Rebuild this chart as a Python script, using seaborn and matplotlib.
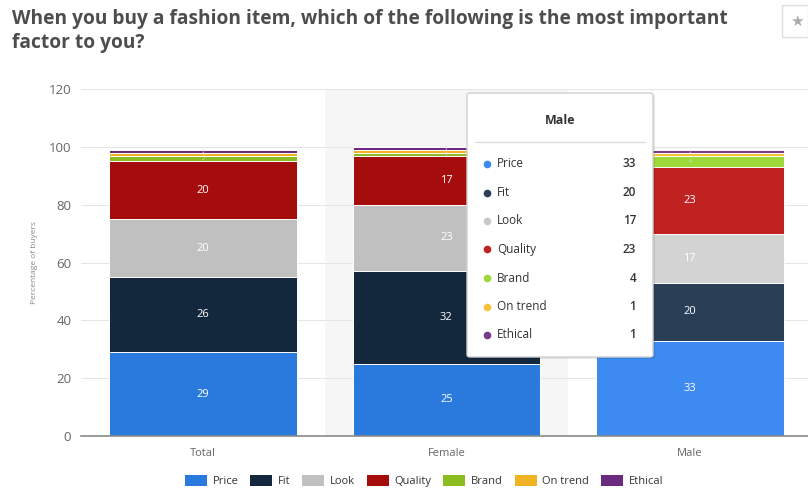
import matplotlib
matplotlib.use("Agg")
import matplotlib.pyplot as plt
from matplotlib.patches import Rectangle, FancyBboxPatch, Patch
from matplotlib.lines import Line2D
import seaborn as sns
import pandas as pd
import numpy as np

sns.set_theme(style="white")
plt.rcParams["font.family"] = ["Open Sans", "DejaVu Sans"]

# Survey data (% of buyers)
groups = ["Total", "Female", "Male"]
factors = ["Price", "Fit", "Look", "Quality", "Brand", "On trend", "Ethical"]
price = [29, 25, 33]
fit = [26, 32, 20]
look = [20, 23, 17]
quality = [20, 17, 23]
brand = [2, 1, 4]
on_trend = [1, 1, 1]
ethical = [1, 1, 1]
series = [price, fit, look, quality, brand, on_trend, ethical]

base_colors = ["#2a7ade", "#13273d", "#c0c0c0", "#a50c0c", "#8bbc21", "#f0b323", "#6a2a7f"]
hover_colors = ["#3d8bf0", "#2a3f56", "#d3d3d3", "#c02222", "#9ed93a", "#f8c23a", "#7a3a8f"]

W, H = 808, 492
fig = plt.figure(figsize=(W / 100, H / 100), dpi=100)
ax = fig.add_axes([81 / W, 1 - 436 / H, 1 - 81 / W, (436 - 89) / H])

def fx(x):
    return x / W

def fy(y):
    return 1 - y / H

# hovered category band
ax.axvspan(0.5, 1.5, color="#f6f6f6", zorder=0, lw=0)

# stacked columns: draw cumulative totals from the top series down
cum = np.cumsum(np.array(series), axis=0)
for i in range(len(factors) - 1, -1, -1):
    df = pd.DataFrame({"group": groups, "value": cum[i]})
    pal = {"Total": base_colors[i], "Female": base_colors[i], "Male": hover_colors[i]}
    sns.barplot(data=df, x="group", y="value", hue="group", palette=pal,
                dodge=False, legend=False, width=0.77, ax=ax,
                edgecolor="white", linewidth=0.7, saturation=1, zorder=2)

# segment labels
for i, vals in enumerate(series):
    for j, v in enumerate(vals):
        center = cum[i][j] - v / 2
        if v >= 5:
            ax.text(j, center, str(v), ha="center", va="center", fontsize=8,
                    color="white", zorder=5)
        else:
            ax.text(j, center, str(v), ha="center", va="center", fontsize=3.5,
                    color="#e0e0e0", zorder=5)

ax.set_xlim(-0.5, 2.485)
ax.set_ylim(0, 120)
ax.set_yticks(range(0, 121, 20))
ax.yaxis.grid(True, color="#e6e6e6", lw=0.8)
ax.set_axisbelow(True)
for s in ["top", "right", "left"]:
    ax.spines[s].set_visible(False)
ax.spines["bottom"].set_color("#8a8a8a")
ax.spines["bottom"].set_linewidth(1.2)
ax.tick_params(axis="y", length=0, pad=7, labelsize=9.5, labelcolor="#666666")
ax.tick_params(axis="x", length=0, pad=9, labelsize=8, labelcolor="#666666")
ax.set_xlabel("")
ax.set_ylabel("Percentage of buyers", fontsize=6, color="#888888", labelpad=8)

# title
fig.text(fx(12), fy(19), "When you buy a fashion item, which of the following is the most important",
         fontsize=13.8, fontweight="bold", color="#4d4d4d", va="center", ha="left")
fig.text(fx(12), fy(43), "factor to you?",
         fontsize=13.8, fontweight="bold", color="#4d4d4d", va="center", ha="left")

# star button
fig.add_artist(Rectangle((fx(782), fy(37)), (808 - 782) / W, 32 / H,
                         transform=fig.transFigure, facecolor="white",
                         edgecolor="#dddddd", lw=1))
fig.text(fx(797), fy(21), "★", fontsize=11, color="#aaaaaa", ha="center", va="center",
         family="DejaVu Sans")

# tooltip
tx0, tx1, ty0, ty1 = 467, 653, 93, 357
fig.add_artist(FancyBboxPatch((fx(tx0 + 2), fy(ty1 + 2)), (tx1 - tx0) / W, (ty1 - ty0) / H,
                              boxstyle="round,pad=0,rounding_size=0.004",
                              transform=fig.transFigure, facecolor="#00000018",
                              edgecolor="none", zorder=9))
fig.add_artist(FancyBboxPatch((fx(tx0), fy(ty1)), (tx1 - tx0) / W, (ty1 - ty0) / H,
                              boxstyle="round,pad=0,rounding_size=0.004",
                              transform=fig.transFigure, facecolor="white",
                              edgecolor="#d0d0d0", lw=1, zorder=10))
fig.text(fx(560), fy(121), "Male", fontsize=9, fontweight="bold", color="#333333",
         ha="center", va="center", zorder=11)
fig.add_artist(Line2D([fx(475), fx(645)], [fy(142), fy(142)], transform=fig.transFigure,
                      color="#dddddd", lw=1, zorder=11))
male_vals = [s[2] for s in series]
for k, (name, v) in enumerate(zip(factors, male_vals)):
    yy = 164 + k * 28.5
    fig.add_artist(Line2D([fx(487)], [fy(yy)], marker="o", markersize=4.5,
                          color=hover_colors[k] if k != 2 else "#c8c8c8",
                          transform=fig.transFigure, zorder=11))
    fig.text(fx(497), fy(yy), name, fontsize=8.5, color="#333333", ha="left", va="center", zorder=11)
    fig.text(fx(636), fy(yy), str(v), fontsize=8.5, fontweight="semibold", color="#333333",
             ha="right", va="center", zorder=11)

# legend
handles = [Patch(facecolor=c, edgecolor="none", label=f) for c, f in zip(base_colors, factors)]
fig.legend(handles=handles, loc="center", bbox_to_anchor=(fx(424), fy(481)), ncol=7,
           frameon=False, fontsize=8, handlelength=2.0, handleheight=1.1,
           handletextpad=0.5, columnspacing=1.05, labelcolor="#333333")

fig.savefig("out.png", dpi=100)
